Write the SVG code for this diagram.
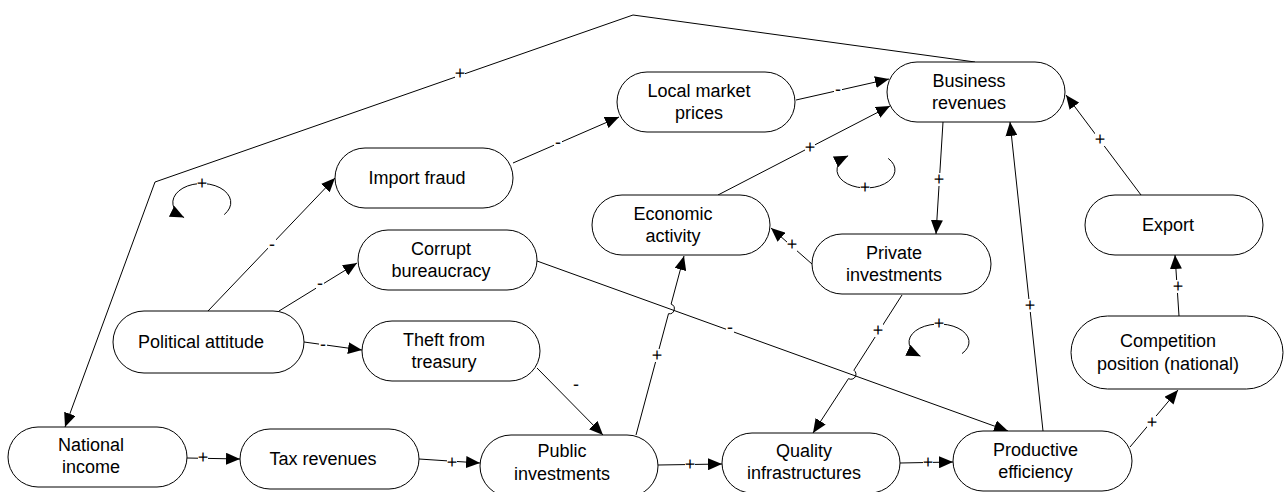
<svg xmlns="http://www.w3.org/2000/svg" width="1285" height="492" viewBox="0 0 1285 492">
  <defs>
    <marker id="arrow" markerUnits="userSpaceOnUse" markerWidth="14" markerHeight="12" refX="14" refY="6" orient="auto">
      <path d="M0,0 L14,6 L0,12 z" fill="#000"/>
    </marker>
    <style>
      .node rect { fill: #fff; stroke: #000; stroke-width: 1; }
      .node text { font-family: "Liberation Sans", Arial, sans-serif; font-size: 18px; fill: #000; text-anchor: middle; }
      .edge { fill: none; stroke: #000; stroke-width: 1; marker-end: url(#arrow); }
      .labels { opacity: 0.99; }
      .lbl rect { fill: #fff; stroke: none; }
      .lbl text { font-family: "Liberation Sans", Arial, sans-serif; font-size: 18px; fill: #000; text-anchor: middle; text-rendering: geometricPrecision; }
    </style>
  </defs>
  <rect width="1285" height="492" fill="#fff"/>

  <!-- connectors -->
  <g id="connectors">
    <path class="edge" d="M975,62 L633,15 L155,182 L65,427"/>
    <path class="edge" d="M208,311 L335,178"/>
    <path class="edge" d="M513,163 L619,117"/>
    <path class="edge" d="M796,100 L889,79"/>
    <path class="edge" d="M718,195 L890,106"/>
    <path class="edge" d="M943,122 L936,234"/>
    <path class="edge" d="M1043,431 L1010,122"/>
    <path class="edge" d="M1141,195 L1066,95"/>
    <path class="edge" d="M812,264 L771,228"/>
    <path class="edge" d="M636,435 L668.5,313.7 A5,5 0 0 0 671.1,304.1 L684,256"/>
    <path class="edge" d="M902,295 L853.9,370.2 A5,5 0 0 1 848.5,378.6 L813,433"/>
    <path class="edge" d="M537,261 L1008,431"/>
    <path class="edge" d="M279,311 L357,263"/>
    <path class="edge" d="M304,342 L362,350"/>
    <path class="edge" d="M537,368 L603,435"/>
    <path class="edge" d="M187,458 L240,459"/>
    <path class="edge" d="M419,459 L480,463"/>
    <path class="edge" d="M658,465 L722,464"/>
    <path class="edge" d="M900,463 L953,462"/>
    <path class="edge" d="M1130,447 L1178,390"/>
    <path class="edge" d="M1179,316 L1175,255"/>
    <!-- feedback loop symbols -->
    <path class="edge" d="M224.2,214.6 A29,19 0 1 0 184.1,217.6"/>
    <path class="edge" d="M888.2,158.4 A29,18 0 1 1 848.1,155.8"/>
    <path class="edge" d="M962,353.6 A30,18 0 1 0 920.5,356.2"/>

    <!-- polarity labels on a white patch that breaks the line -->
    <g class="labels">
      <g class="lbl"><rect x="455" y="67" width="10" height="13"/><text x="460" y="79">+</text></g>
      <g class="lbl"><rect x="268" y="239" width="8" height="12"/><text x="272" y="250">-</text></g>
      <g class="lbl"><rect x="554" y="137" width="8" height="12"/><text x="558" y="148">-</text></g>
      <g class="lbl"><rect x="834" y="84" width="8" height="12"/><text x="838" y="95">-</text></g>
      <g class="lbl"><rect x="805" y="141" width="10" height="13"/><text x="810" y="153">+</text></g>
      <g class="lbl"><rect x="934" y="173" width="10" height="13"/><text x="939" y="185">+</text></g>
      <g class="lbl"><rect x="1025" y="299" width="10" height="13"/><text x="1030" y="311">+</text></g>
      <g class="lbl"><rect x="1095" y="133" width="10" height="13"/><text x="1100" y="145">+</text></g>
      <g class="lbl"><rect x="787" y="238" width="10" height="13"/><text x="792" y="250">+</text></g>
      <g class="lbl"><rect x="652" y="349" width="10" height="13"/><text x="657" y="361">+</text></g>
      <g class="lbl"><rect x="873" y="324" width="10" height="13"/><text x="878" y="336">+</text></g>
      <g class="lbl"><rect x="726" y="322" width="8" height="12"/><text x="730" y="333">-</text></g>
      <g class="lbl"><rect x="316" y="278" width="8" height="12"/><text x="320" y="289">-</text></g>
      <g class="lbl"><rect x="319" y="339" width="8" height="12"/><text x="323" y="350">-</text></g>
      <g class="lbl"><rect x="572" y="379" width="8" height="12"/><text x="576" y="390">-</text></g>
      <g class="lbl"><rect x="198" y="451" width="10" height="13"/><text x="203" y="463">+</text></g>
      <g class="lbl"><rect x="447" y="456" width="10" height="13"/><text x="452" y="468">+</text></g>
      <g class="lbl"><rect x="685" y="458" width="10" height="13"/><text x="690" y="470">+</text></g>
      <g class="lbl"><rect x="923" y="456" width="10" height="13"/><text x="928" y="468">+</text></g>
      <g class="lbl"><rect x="1147" y="416" width="10" height="13"/><text x="1152" y="428">+</text></g>
      <g class="lbl"><rect x="1173" y="280" width="10" height="13"/><text x="1178" y="292">+</text></g>
      <g class="lbl"><rect x="197" y="177" width="10" height="13"/><text x="202" y="189">+</text></g>
      <g class="lbl"><rect x="860" y="181" width="10" height="13"/><text x="865" y="193">+</text></g>
      <g class="lbl"><rect x="934" y="317" width="10" height="13"/><text x="939" y="329">+</text></g>
    </g>
  </g>

  <!-- nodes -->
  <g id="political-attitude" class="node">
    <rect x="113" y="311" width="191" height="62" rx="31"/>
    <text x="201" y="348">Political attitude</text>
  </g>
  <g id="import-fraud" class="node">
    <rect x="335" y="148" width="178" height="60" rx="30"/>
    <text x="417" y="184">Import fraud</text>
  </g>
  <g id="corrupt-bureaucracy" class="node">
    <rect x="358" y="230" width="179" height="60" rx="30"/>
    <text x="441" y="254.5">Corrupt</text>
    <text x="441" y="276.5">bureaucracy</text>
  </g>
  <g id="theft-from-treasury" class="node">
    <rect x="362" y="321" width="178" height="60" rx="30"/>
    <text x="444" y="345.5">Theft from</text>
    <text x="444" y="367.5">treasury</text>
  </g>
  <g id="local-market-prices" class="node">
    <rect x="617" y="72" width="178" height="60" rx="30"/>
    <text x="699" y="96.5">Local market</text>
    <text x="699" y="118.5">prices</text>
  </g>
  <g id="business-revenues" class="node">
    <rect x="887" y="62" width="178" height="60" rx="30"/>
    <text x="969" y="86.5">Business</text>
    <text x="969" y="108.5">revenues</text>
  </g>
  <g id="economic-activity" class="node">
    <rect x="592" y="195" width="178" height="60" rx="30"/>
    <text x="673" y="219.5">Economic</text>
    <text x="673" y="241.5">activity</text>
  </g>
  <g id="private-investments" class="node">
    <rect x="812" y="234" width="179" height="60" rx="30"/>
    <text x="894" y="258.5">Private</text>
    <text x="894" y="280.5">investments</text>
  </g>
  <g id="export" class="node">
    <rect x="1085" y="195" width="178" height="60" rx="30"/>
    <text x="1168" y="231">Export</text>
  </g>
  <g id="competition-position" class="node">
    <rect x="1071" y="316" width="212" height="73" rx="36.5"/>
    <text x="1168" y="347">Competition</text>
    <text x="1168" y="370">position (national)</text>
  </g>
  <g id="national-income" class="node">
    <rect x="8" y="427" width="179" height="60" rx="30"/>
    <text x="91" y="451">National</text>
    <text x="91" y="473">income</text>
  </g>
  <g id="tax-revenues" class="node">
    <rect x="240" y="429" width="179" height="60" rx="30"/>
    <text x="323" y="465">Tax revenues</text>
  </g>
  <g id="public-investments" class="node">
    <rect x="480" y="435" width="178" height="62" rx="31"/>
    <text x="562" y="457">Public</text>
    <text x="562" y="480">investments</text>
  </g>
  <g id="quality-infrastructures" class="node">
    <rect x="722" y="433" width="178" height="60" rx="30"/>
    <text x="804" y="457">Quality</text>
    <text x="804" y="479">infrastructures</text>
  </g>
  <g id="productive-efficiency" class="node">
    <rect x="953" y="431" width="179" height="60" rx="30"/>
    <text x="1035.5" y="456">Productive</text>
    <text x="1035.5" y="478">efficiency</text>
  </g>
</svg>
